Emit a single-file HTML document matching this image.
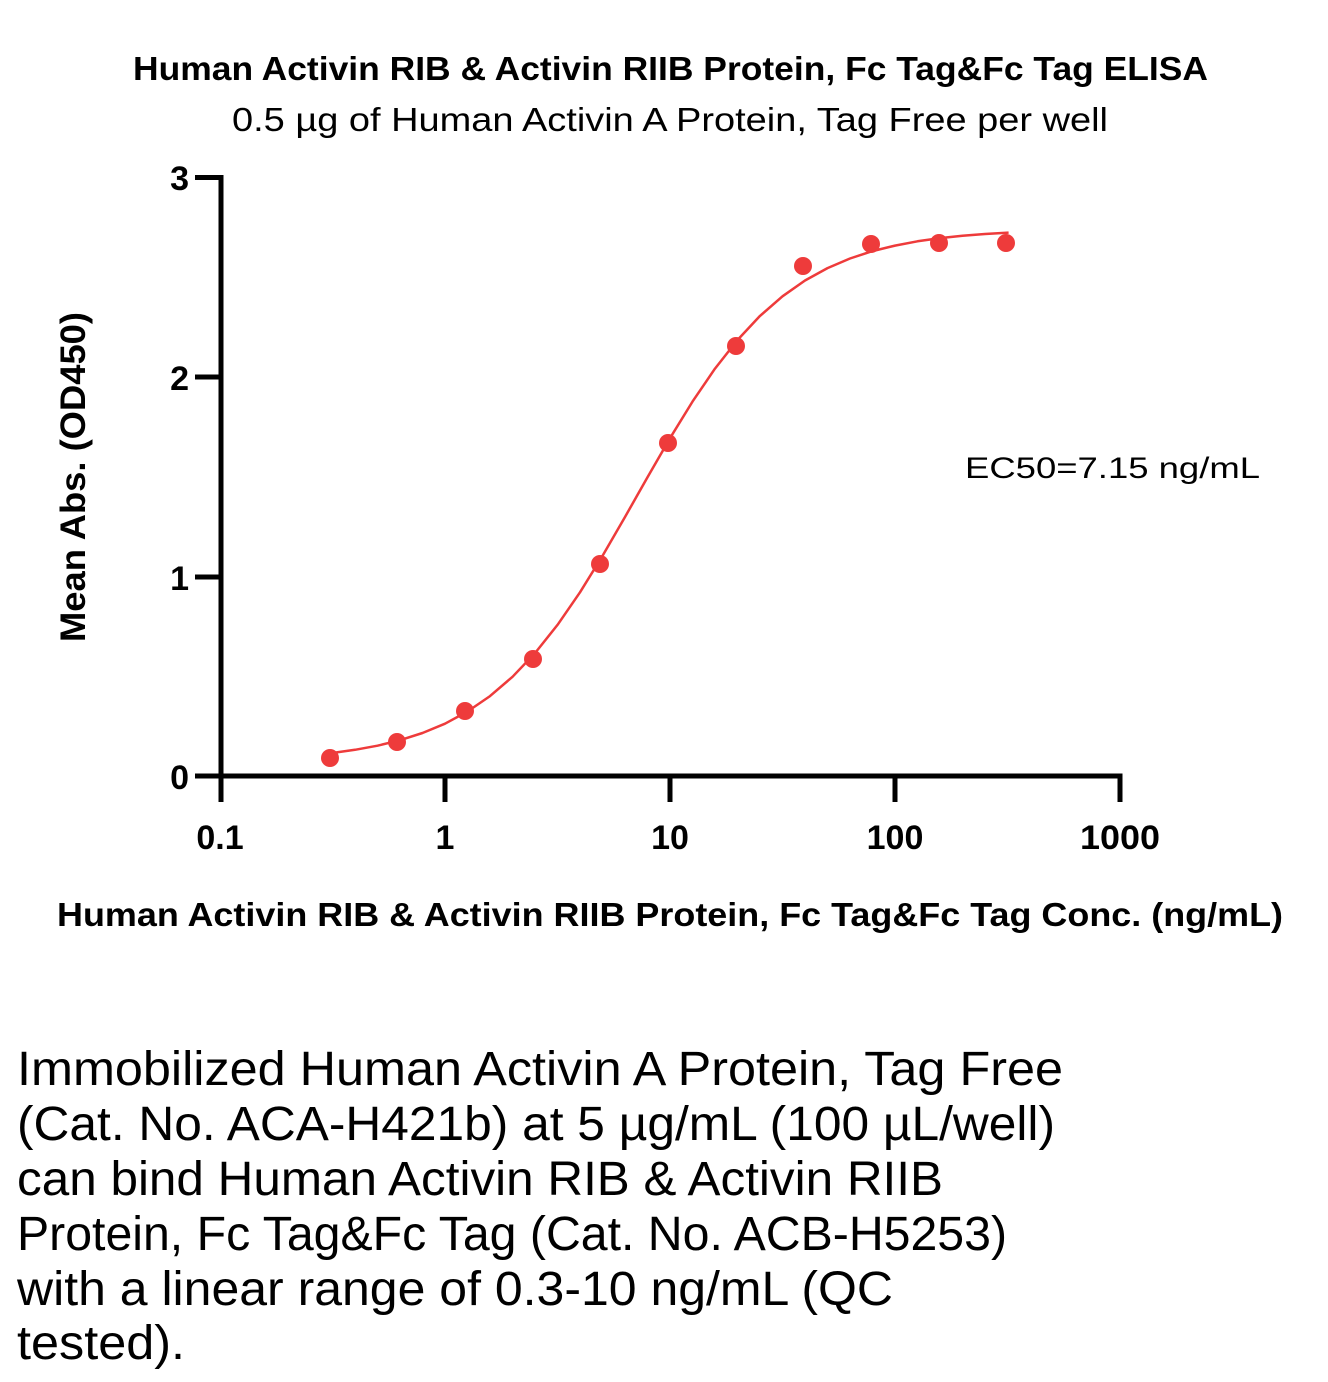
<!DOCTYPE html>
<html><head><meta charset="utf-8"><style>
html,body{margin:0;padding:0;background:#fff;}
svg{display:block;}
text{font-family:"Liberation Sans",sans-serif;fill:#000;}
.b{font-weight:bold;}
</style></head><body>
<svg width="1328" height="1382" viewBox="0 0 1328 1382" xmlns="http://www.w3.org/2000/svg">
<rect width="1328" height="1382" fill="#fff"/>
<text class="b" x="133" y="80" font-size="33" textLength="1075" lengthAdjust="spacingAndGlyphs">Human Activin RIB &amp; Activin RIIB Protein, Fc Tag&amp;Fc Tag ELISA</text>
<text x="232" y="131" font-size="33" textLength="876" lengthAdjust="spacingAndGlyphs">0.5 µg of Human Activin A Protein, Tag Free per well</text>

<!-- axes -->
<g stroke="#000" stroke-width="5" fill="none" stroke-linecap="butt">
<line x1="221" y1="175" x2="221" y2="802"/>
<line x1="218.5" y1="776" x2="1122.5" y2="776"/>
<line x1="195" y1="177.5" x2="221" y2="177.5"/>
<line x1="195" y1="377" x2="221" y2="377"/>
<line x1="195" y1="577" x2="221" y2="577"/>
<line x1="195" y1="776" x2="221" y2="776"/>
<line x1="445" y1="776" x2="445" y2="802"/>
<line x1="670" y1="776" x2="670" y2="802"/>
<line x1="895" y1="776" x2="895" y2="802"/>
<line x1="1120" y1="776" x2="1120" y2="802"/>
</g>

<g font-size="34" text-anchor="end">
<text class="b" x="189" y="190">3</text>
<text class="b" x="189" y="390">2</text>
<text class="b" x="189" y="590">1</text>
<text class="b" x="189" y="789">0</text>
</g>
<g font-size="34" text-anchor="middle">
<text class="b" x="220" y="849">0.1</text>
<text class="b" x="445" y="849">1</text>
<text class="b" x="670" y="849">10</text>
<text class="b" x="895" y="849">100</text>
<text class="b" x="1120" y="849" textLength="80" lengthAdjust="spacingAndGlyphs">1000</text>
</g>

<text class="b" x="57" y="926" font-size="33" textLength="1226" lengthAdjust="spacingAndGlyphs">Human Activin RIB &amp; Activin RIIB Protein, Fc Tag&amp;Fc Tag Conc. (ng/mL)</text>

<text class="b" font-size="35" transform="translate(85,642) rotate(-90)" textLength="330" lengthAdjust="spacingAndGlyphs">Mean Abs. (OD450)</text>

<text x="965" y="478" font-size="30" textLength="295" lengthAdjust="spacingAndGlyphs">EC50=7.15 ng/mL</text>

<!-- fitted curve -->
<polyline fill="none" stroke="#EE3B3B" stroke-width="2.5" stroke-linejoin="round" points="331.4,753.1 355,749.8 377.5,745.7 400,740.2 422.5,733.0 445,723.7 467.5,711.5 490,696.1 512.5,676.8 535,653.1 557.5,624.9 580,592.3 602.5,555.9 625,517.0 647.5,477.2 670,438.2 692.5,401.6 715,368.6 737.5,340.0 760,315.9 782.5,296.3 805,280.5 827.5,268.1 850,258.5 872.5,251.1 895,245.6 917.5,241.3 940,238.1 962.5,235.8 985,234.0 1008.6,232.6"/>

<!-- data points -->
<g fill="#EE3B3B">
<circle cx="330" cy="758" r="9"/>
<circle cx="397" cy="742" r="9"/>
<circle cx="465" cy="711" r="9"/>
<circle cx="533" cy="659" r="9"/>
<circle cx="600" cy="564" r="9"/>
<circle cx="668" cy="443" r="9"/>
<circle cx="736" cy="346" r="9"/>
<circle cx="803" cy="266" r="9"/>
<circle cx="871" cy="244" r="9"/>
<circle cx="939" cy="243" r="9"/>
<circle cx="1006" cy="243" r="9"/>
</g>

<!-- description -->
<g font-size="48">
<text x="17" y="1085" textLength="1046" lengthAdjust="spacingAndGlyphs">Immobilized Human Activin A Protein, Tag Free</text>
<text x="17" y="1140" textLength="1038" lengthAdjust="spacingAndGlyphs">(Cat. No. ACA-H421b) at 5 µg/mL (100 µL/well)</text>
<text x="17" y="1195" textLength="926" lengthAdjust="spacingAndGlyphs">can bind Human Activin RIB &amp; Activin RIIB</text>
<text x="17" y="1250" textLength="990" lengthAdjust="spacingAndGlyphs">Protein, Fc Tag&amp;Fc Tag (Cat. No. ACB-H5253)</text>
<text x="17" y="1305" textLength="876" lengthAdjust="spacingAndGlyphs">with a linear range of 0.3-10 ng/mL (QC</text>
<text x="17" y="1359" textLength="168" lengthAdjust="spacingAndGlyphs">tested).</text>
</g>
</svg>
</body></html>
